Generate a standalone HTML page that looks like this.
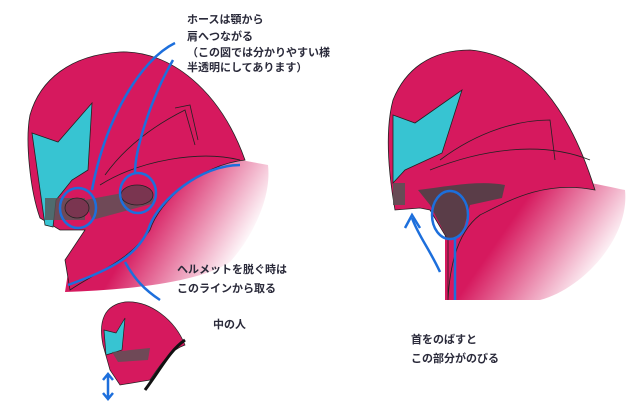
<!DOCTYPE html>
<html><head><meta charset="utf-8"><style>
html,body{margin:0;padding:0;background:#fff;}
svg{display:block}
text{font-family:"Liberation Sans","Noto Sans CJK JP",sans-serif;font-size:11px;fill:#2a2a3a;font-weight:bold}
</style></head><body>
<svg width="640" height="406" viewBox="0 0 640 406" xmlns="http://www.w3.org/2000/svg">
<defs>
<linearGradient id="fadeL" x1="0" y1="0" x2="1" y2="0.4"><stop offset="0.5" stop-color="#d6195e"/><stop offset="1" stop-color="#d6195e" stop-opacity="0"/></linearGradient>
<linearGradient id="fadeR" x1="0" y1="0" x2="1" y2="0.5"><stop offset="0.45" stop-color="#d6195e"/><stop offset="1" stop-color="#d6195e" stop-opacity="0"/></linearGradient>
</defs>
<!-- LEFT HELMET -->
<path d="M160,160 C200,150 240,160 268,165 C272,200 250,240 230,262 C200,282 130,290 65,292 L70,260 L100,230 Z" fill="url(#fadeL)"/>
<path d="M40,218 C30,190 25,140 30,115 C40,80 70,55 120,52 C170,50 220,90 245,160 C200,165 160,200 150,230 C130,260 100,270 70,290 L65,260 L85,230 L60,230 Z" fill="#d6195e" stroke="#222" stroke-width="0.8"/>
<path d="M32,133 L58,142 L92,103 L88,170 L72,180 L56,200 L53,227 L45,225 Z" fill="#37c4d2" stroke="#222" stroke-width="0.8"/>
<rect x="45" y="198" width="40" height="22" fill="#555" opacity="0.8"/>
<path d="M85,200 L150,188 L155,203 L92,220 Z" fill="#555" opacity="0.8"/>
<ellipse cx="77" cy="208" rx="12" ry="10" fill="#7a3550" stroke="#222" stroke-width="0.8"/>
<ellipse cx="137" cy="195" rx="16" ry="10" fill="#7a3550" stroke="#222" stroke-width="0.8"/>
<path d="M105,175 C130,140 165,120 185,110 L195,145 M100,185 C140,160 200,150 240,160" fill="none" stroke="#222" stroke-width="0.8"/>
<path d="M175,108 L190,105 L198,140" fill="none" stroke="#222" stroke-width="0.8"/>
<g fill="none" stroke="#1d6fdc" stroke-width="2.5">
<ellipse cx="78" cy="208" rx="18" ry="20"/>
<ellipse cx="138" cy="193" rx="18" ry="20"/>
<path d="M175,43 C140,60 105,120 92,190"/>
<path d="M173,60 C150,100 135,150 135,173"/>
<path d="M240,165 C200,165 160,200 150,225 C140,255 110,270 68,285"/>
<path d="M125,262 C135,280 145,290 160,300"/>
</g>
<!-- RIGHT HELMET -->
<path d="M500,170 C560,175 600,185 625,190 C630,240 580,290 540,300 L445,300 L445,230 Z" fill="url(#fadeR)"/>
<path d="M395,210 C388,170 385,130 393,100 C405,70 430,50 470,50 C530,55 570,110 595,190 C545,180 510,200 480,215 C460,230 450,260 448,300 L448,240 L430,210 L420,208 Z" fill="#d6195e" stroke="#222" stroke-width="0.8"/>
<path d="M393,115 L415,123 L462,90 L442,153 L405,170 L393,183 Z" fill="#37c4d2" stroke="#222" stroke-width="0.8"/>
<rect x="393" y="183" width="12" height="22" fill="#555" opacity="0.85"/>
<path d="M418,190 C450,186 480,180 505,185 L502,198 L470,205 L462,235 L448,240 L430,205 Z" fill="#444" opacity="0.85"/>
<path d="M440,160 C480,130 520,120 550,120 L555,160 M430,170 C480,150 540,140 590,160" fill="none" stroke="#222" stroke-width="0.8"/>
<g fill="none" stroke="#1d6fdc" stroke-width="2.5">
<ellipse cx="450" cy="215" rx="18" ry="24"/>
<path d="M455,238 L455,300"/>
<path d="M440,272 C430,250 418,235 412,218"/>
<path d="M405,228 L412,215 L420,228"/>
</g>
<!-- SMALL HELMET -->
<path d="M103,345 C98,320 105,305 125,302 C150,300 175,320 185,345 C170,350 160,365 150,380 L120,385 L110,370 Z" fill="#d6195e" stroke="#222" stroke-width="0.7"/>
<path d="M104,330 L116,333 L125,318 L122,350 L106,355 Z" fill="#37c4d2" stroke="#222" stroke-width="0.7"/>
<path d="M112,352 L150,348 L148,360 L118,362 Z" fill="#555" opacity="0.8"/>
<path d="M185,340 C170,350 160,370 145,390" fill="none" stroke="#111" stroke-width="3"/>
<g fill="none" stroke="#1d6fdc" stroke-width="2.5"><path d="M108,375 L108,398 M103,380 L108,374 L113,380 M103,393 L108,399 L113,393"/></g>
<!-- TEXT -->
<text x="187" y="23">ホースは顎から</text>
<text x="187" y="40">肩へつながる</text>
<text x="187" y="56">（この図では分かりやすい様</text>
<text x="187" y="71">半透明にしてあります）</text>
<text x="177" y="273">ヘルメットを脱ぐ時は</text>
<text x="177" y="292">このラインから取る</text>
<text x="213" y="328">中の人</text>
<text x="411" y="343">首をのばすと</text>
<text x="411" y="362">この部分がのびる</text>
</svg>
</body></html>
